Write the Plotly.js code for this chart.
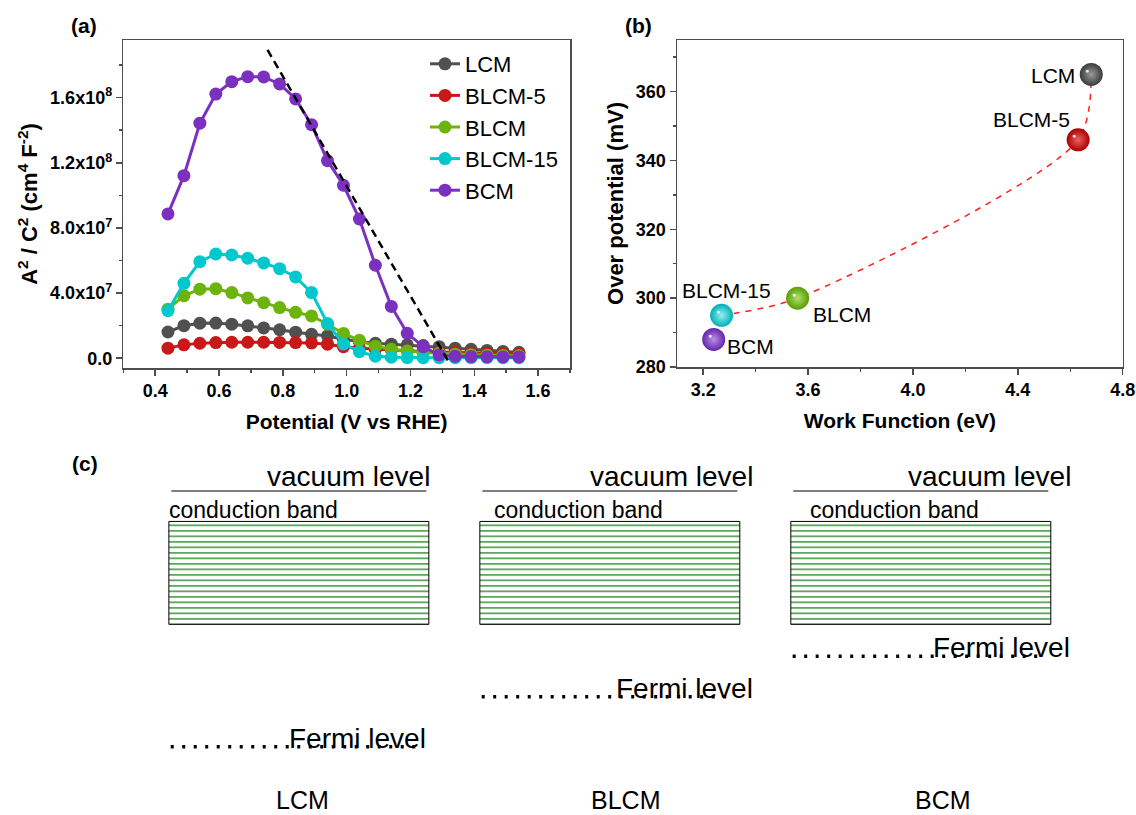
<!DOCTYPE html>
<html><head><meta charset="utf-8">
<script src="https://cdn.plot.ly/plotly-3.0.1.min.js"></script>
<style>html,body{margin:0;padding:0;background:#fff}</style>
</head><body><div id="chart" style="width:1136px;height:815px"></div>
<script>
// ---------- Panel (a): Mott-Schottky data ----------
const potential = [0.44,0.49,0.54,0.59,0.64,0.69,0.74,0.79,0.84,0.89,0.94,0.99,1.04,1.09,1.14,1.19,1.24,1.29,1.34,1.39,1.44,1.49,1.54];
const seriesNames = ['LCM','BLCM-5','BLCM','BLCM-15','BCM'];
const lcm    = [1.61e7,2.00e7,2.15e7,2.16e7,2.09e7,1.99e7,1.86e7,1.75e7,1.60e7,1.47e7,1.37e7,1.17e7,1.02e7,0.92e7,0.86e7,0.82e7,0.78e7,0.71e7,0.62e7,0.55e7,0.48e7,0.42e7,0.36e7];
const blcm5  = [0.62e7,0.82e7,0.92e7,0.96e7,0.98e7,0.98e7,0.98e7,0.97e7,0.96e7,0.94e7,0.86e7,0.71e7,0.61e7,0.55e7,0.50e7,0.46e7,0.42e7,0.38e7,0.35e7,0.32e7,0.30e7,0.28e7,0.26e7];
const blcm   = [3.01e7,3.84e7,4.24e7,4.27e7,4.03e7,3.70e7,3.41e7,3.11e7,2.82e7,2.60e7,2.09e7,1.52e7,1.10e7,0.74e7,0.55e7,0.45e7,0.35e7,0.30e7,0.25e7,0.22e7,0.19e7,0.17e7,0.15e7];
const blcm15 = [2.92e7,4.60e7,5.93e7,6.40e7,6.34e7,6.14e7,5.85e7,5.50e7,4.99e7,4.03e7,2.13e7,0.87e7,0.40e7,0.12e7,0.06e7,0.04e7,0.03e7,0.03e7,0.03e7,0.03e7,0.03e7,0.03e7,0.03e7];
const bcm    = [8.86e7,11.21e7,14.43e7,16.22e7,16.98e7,17.29e7,17.27e7,16.84e7,15.92e7,14.34e7,12.13e7,10.62e7,8.55e7,5.71e7,3.18e7,1.53e7,0.71e7,0.20e7,0.12e7,0.10e7,0.09e7,0.08e7,0.08e7];
const fitX = [0.752, 1.325];
const fitY = [1.893e8, -4.0e6];
const yTickVals = [0, 4e7, 8e7, 1.2e8, 1.6e8];
const yTickText = ['0.0','4.0x10<sup>7</sup>','8.0x10<sup>7</sup>','1.2x10<sup>8</sup>','1.6x10<sup>8</sup>'];

// ---------- Panel (b): work function vs overpotential ----------
const wfMaterials = ['LCM','BLCM-5','BLCM','BLCM-15','BCM'];
const workFunction = [4.68, 4.63, 3.56, 3.27, 3.24];
const overPotential = [365, 346, 300, 295, 288];
const trendOrder = [3, 2, 1, 0];

// ---------- Panel (c): band diagram (schematic energies, vacuum = 0) ----------
const diagramMaterials = ['LCM','BLCM','BCM'];
const vacuumLevel = 0;
const cbTop = -0.61;
const cbBottom = -2.67;
const fermiLevel = [-5.12, -4.12, -3.31];
const labelLevel = -6.19;

// ---------- styling ----------
const FONT = 'Arial, "Liberation Sans", Helvetica, sans-serif';
const colA = ['#505050','#c81818','#6cb40c','#00c8cc','#7b30c0'];
const edgeB = ['#3a3a3a','#a80000','#5a9c00','#00aeb6','#6424a8'];
const centerB = ['#9a9a9a','#f06060','#b0e070','#90f0f2','#b890ea'];
const seriesA = [lcm, blcm5, blcm, blcm15, bcm];
const AX = '#4d4d4d';

const traces = [];
seriesNames.forEach((n, i) => traces.push({
  type:'scatter', mode:'lines+markers', name:n, x:potential, y:seriesA[i],
  xaxis:'x', yaxis:'y', line:{color:colA[i], width:3}, marker:{color:colA[i], size:13}
}));
traces.push({type:'scatter', mode:'lines', x:fitX, y:fitY, xaxis:'x', yaxis:'y',
  line:{color:'#000', width:2.5, dash:'8px,5px'}, showlegend:false, hoverinfo:'skip'});

traces.push({type:'scatter', mode:'lines', x:trendOrder.map(i=>workFunction[i]), y:trendOrder.map(i=>overPotential[i]),
  xaxis:'x2', yaxis:'y2', line:{color:'#ff2020', width:1.5, dash:'6px,6px', shape:'spline', smoothing:0.8}, showlegend:false});
traces.push({type:'scatter', mode:'markers', x:workFunction, y:overPotential, xaxis:'x2', yaxis:'y2',
  marker:{size:23, color:edgeB, gradient:{type:'radial', color:centerB}, line:{width:0}}, showlegend:false});

const gx = diagramMaterials.map((_, i) => i);
traces.push({type:'bar', x:gx, y:gx.map(() => cbTop - cbBottom), base:cbBottom, width:0.836,
  xaxis:'x3', yaxis:'y3', showlegend:false, hoverinfo:'skip',
  marker:{color:'white', line:{color:'#000', width:1},
    pattern:{shape:'-', fgcolor:'#4a9e4a', bgcolor:'white', size:5.5, solidity:0.3, fillmode:'replace'}}});
const vx = [], vy = [], fx = [], fy = [];
gx.forEach(i => { vx.push(i-0.41, i+0.41, null); vy.push(vacuumLevel, vacuumLevel, null);
                  fx.push(i-0.412, i+0.395, null); fy.push(fermiLevel[i], fermiLevel[i], null); });
traces.push({type:'scatter', mode:'lines', x:vx, y:vy, xaxis:'x3', yaxis:'y3', showlegend:false,
  line:{color:'#555', width:1.5}, hoverinfo:'skip'});
traces.push({type:'scatter', mode:'lines', x:fx, y:fy, xaxis:'x3', yaxis:'y3', showlegend:false,
  line:{color:'#000', width:3.5, dash:'3px,8.5px'}, hoverinfo:'skip'});

// ---------- annotations ----------
const ann = [];
const pl = (t, x, y) => ann.push({text:'<b>'+t+'</b>', x:x, y:y, xref:'paper', yref:'paper', showarrow:false,
  font:{family:FONT, size:21, color:'#000'}, xanchor:'center', yanchor:'middle'});
pl('(a)', 84/1136, 1-25/815); pl('(b)', 638/1136, 1-25/815); pl('(c)', 85/1136, 1-463/815);

const labOff = [{xa:'right', xs:-14, ys:-1},{xa:'right', xs:-6, ys:20},{xa:'left', xs:13, ys:-16},{xa:'center', xs:5, ys:25},{xa:'left', xs:11, ys:-7}];
wfMaterials.forEach((m, i) => {
  ann.push({text:m, x:workFunction[i], y:overPotential[i], xref:'x2', yref:'y2', showarrow:false,
    xanchor:labOff[i].xa, yanchor:'middle', xshift:labOff[i].xs, yshift:labOff[i].ys,
    font:{family:FONT, size:21, color:'#000'}});
  ann.push({text:'●', x:workFunction[i], y:overPotential[i], xref:'x2', yref:'y2', showarrow:false,
    xshift:-4, yshift:4, font:{family:FONT, size:7, color:'rgba(255,255,255,0.85)'}});
});

const vacRight = [0.427, 0.466, 0.489], fermiRight = [0.415, 0.466, 0.485], cbLeft = [-0.424, -0.380, -0.363], labShift = [0.013, 0.051, 0.071];
diagramMaterials.forEach((m, i) => {
  ann.push({text:'vacuum level', x:i+vacRight[i], y:vacuumLevel, xref:'x3', yref:'y3', showarrow:false,
    xanchor:'right', yanchor:'bottom', yshift:-3, font:{family:FONT, size:28, color:'#000'}});
  ann.push({text:'conduction band', x:i+cbLeft[i], y:cbTop, xref:'x3', yref:'y3', showarrow:false,
    xanchor:'left', yanchor:'bottom', yshift:-4, font:{family:FONT, size:23, color:'#000'}});
  ann.push({text:'Fermi level', x:i+fermiRight[i], y:fermiLevel[i], xref:'x3', yref:'y3', showarrow:false,
    xanchor:'right', yanchor:'bottom', yshift:-9, font:{family:FONT, size:28, color:'#000'}});
  ann.push({text:m, x:i+labShift[i], y:labelLevel, xref:'x3', yref:'y3', showarrow:false,
    xanchor:'center', yanchor:'middle', font:{family:FONT, size:25, color:'#000'}});
});

const tickFont = {family:FONT, size:18, color:'#000', weight:'bold'};
const titleFont = {family:FONT, size:21, color:'#000', weight:'bold'};
const yTitleFont = {family:FONT, size:22, color:'#000', weight:'bold'};
const baseAx = {showline:true, linecolor:AX, linewidth:1.5, mirror:true, ticks:'outside', ticklen:6, tickwidth:1.5,
  tickcolor:AX, showgrid:false, zeroline:false, tickfont:tickFont, fixedrange:true};

const layout = {
  width:1136, height:815, margin:{l:0, r:0, t:0, b:0}, paper_bgcolor:'#fff', plot_bgcolor:'rgba(0,0,0,0)',
  font:{family:FONT, color:'#000'}, hovermode:false,
  showlegend:true,
  legend:{x:425/1136, y:1-43/815, xanchor:'left', yanchor:'top', bgcolor:'rgba(0,0,0,0)', borderwidth:0,
    font:{family:FONT, size:22, color:'#000'}, tracegroupgap:0},
  xaxis:Object.assign({}, baseAx, {domain:[123.3/1136, 570/1136], range:[0.3, 1.7], anchor:'y', tick0:0, dtick:0.2, tickformat:'.1f',
    minor:{tickmode:'linear', tick0:0, dtick:0.1, ticks:'outside', ticklen:3, tickcolor:AX, tickwidth:1.5},
    title:{text:'Potential (V vs RHE)', font:titleFont, standoff:14}}),
  yaxis:Object.assign({}, baseAx, {domain:[1-368/815, 1-40/815], range:[-6e6, 1.954e8], anchor:'x',
    tickmode:'array', tickvals:yTickVals, ticktext:yTickText,
    minor:{tickmode:'linear', tick0:0, dtick:2e7, ticks:'outside', ticklen:3, tickcolor:AX, tickwidth:1.5},
    title:{text:'A<sup>2</sup> / C<sup>2</sup> (cm<sup>4</sup> F<sup>-2</sup>)', font:yTitleFont, standoff:6}}),
  xaxis2:Object.assign({}, baseAx, {domain:[677/1136, 1122.7/1136], range:[3.1, 4.8], anchor:'y2', tick0:0, dtick:0.4, tickformat:'.1f',
    minor:{tickmode:'linear', tick0:0, dtick:0.2, ticks:'outside', ticklen:3, tickcolor:AX, tickwidth:1.5},
    title:{text:'Work Function (eV)', font:titleFont, standoff:14}}),
  yaxis2:Object.assign({}, baseAx, {domain:[1-367/815, 1-40/815], range:[280, 375], anchor:'x2', tick0:0, dtick:20,
    minor:{tickmode:'linear', tick0:0, dtick:10, ticks:'outside', ticklen:3, tickcolor:AX, tickwidth:1.5},
    title:{text:'Over potential (mV)', font:yTitleFont, standoff:6}}),
  xaxis3:{domain:[0, 1], range:[-0.961, 2.692], anchor:'y3', visible:false, fixedrange:true},
  yaxis3:{domain:[0, 0.46], range:[-6.486, 1.018], anchor:'x3', visible:false, fixedrange:true},
  annotations:ann
};
Plotly.newPlot('chart', traces, layout, {staticPlot:true, displayModeBar:false});
</script></body></html>
